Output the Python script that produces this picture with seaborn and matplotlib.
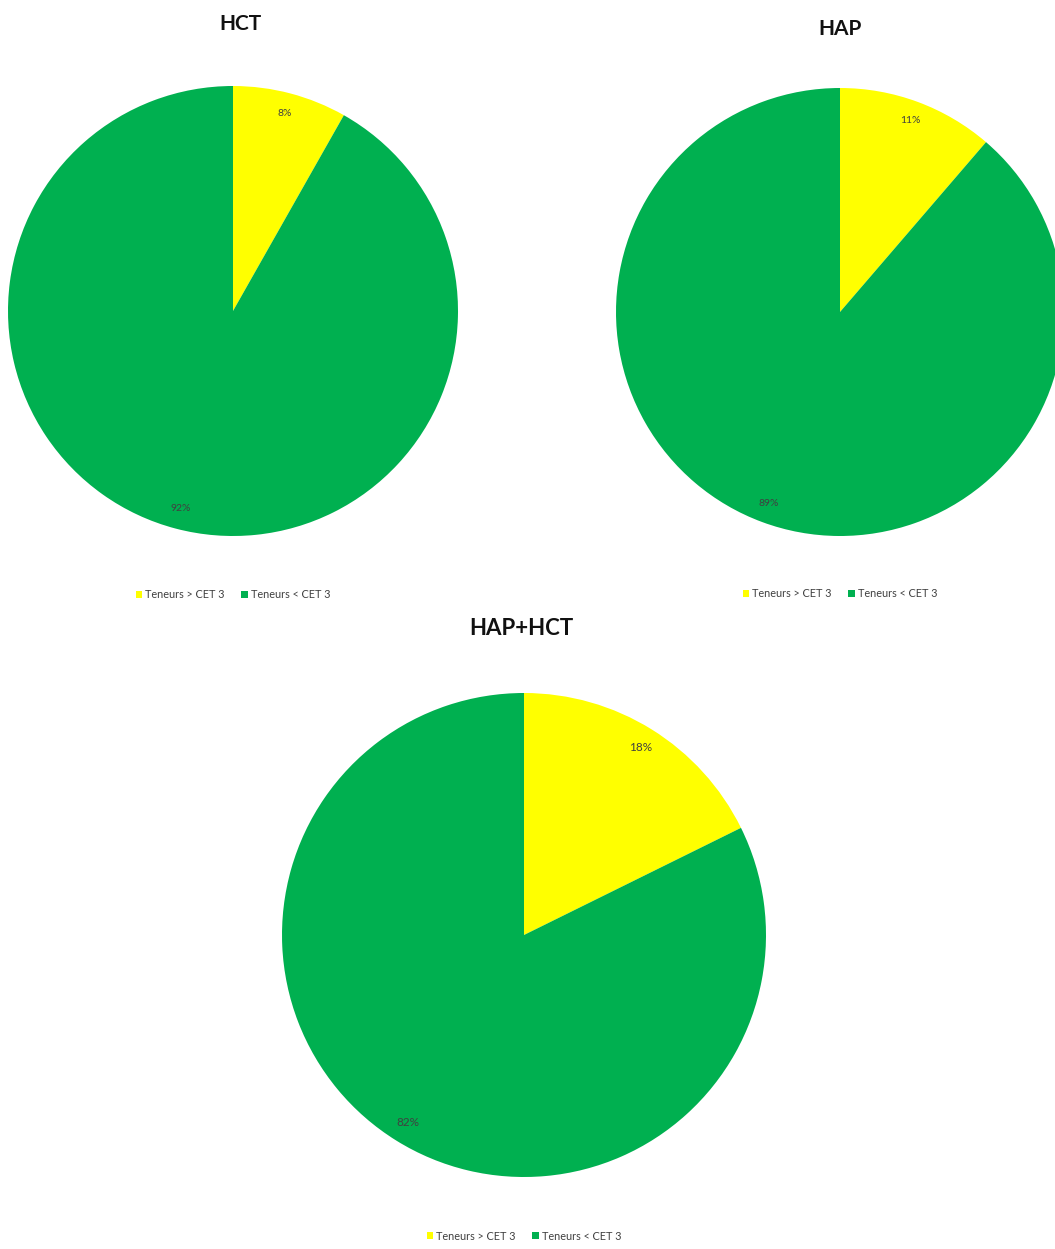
import matplotlib.pyplot as plt
import seaborn as sns
from matplotlib.patches import Patch

# data
labels = ["Teneurs > CET 3", "Teneurs < CET 3"]
hct = [8.2, 91.8]
hap = [11.3, 88.7]
hap_hct = [17.7, 82.3]
titles = ["HCT", "HAP", "HAP+HCT"]

sns.set_theme(style="white")
plt.rcParams['font.family'] = ['Lato', 'DejaVu Sans']
colors = ["#FFFF00", "#00B050"]

W, H = 1055, 1249
fig = plt.figure(figsize=(W / 100, H / 100), dpi=100)


def px_axes(cx, cy, r):
    # axes box in pixel coords -> figure fraction
    return fig.add_axes([(cx - r) / W, 1 - (cy + r) / H, 2 * r / W, 2 * r / H])


pies = [
    (hct, titles[0], (233, 311, 225), (240, 24), 15, (233, 595), 7.5),
    (hap, titles[1], (840, 312, 224), (840, 29), 15, (840, 594), 7.5),
    (hap_hct, titles[2], (524, 935, 242), (521, 628), 16, (524, 1236), 8.5),
]

for vals, title, (cx, cy, r), (tx, ty), tsize, (lx, ly), psize in pies:
    ax = px_axes(cx, cy, r)
    ax.pie(vals, colors=colors, startangle=90, counterclock=False,
           autopct='%.0f%%', pctdistance=0.91, radius=1,
           wedgeprops={'linewidth': 0},
           textprops={'fontsize': psize, 'color': '#404040'})
    ax.set_xlim(-1, 1)
    ax.set_ylim(-1, 1)
    ax.set_aspect('equal')
    ax.axis('off')
    fig.text(tx / W, 1 - ty / H, title, ha='center', va='center',
             fontsize=tsize, fontweight='bold', color='#111111')
    handles = [Patch(facecolor=c, edgecolor='none', label=l) for c, l in zip(colors, labels)]
    fig.legend(handles=handles, loc='center', bbox_to_anchor=(lx / W, 1 - ly / H),
               ncol=2, frameon=False, fontsize=7.8, handlelength=0.6, handleheight=0.6,
               handletextpad=0.3, columnspacing=1.5, labelcolor='#404040')

fig.savefig("out.png", dpi=100, facecolor='white')
